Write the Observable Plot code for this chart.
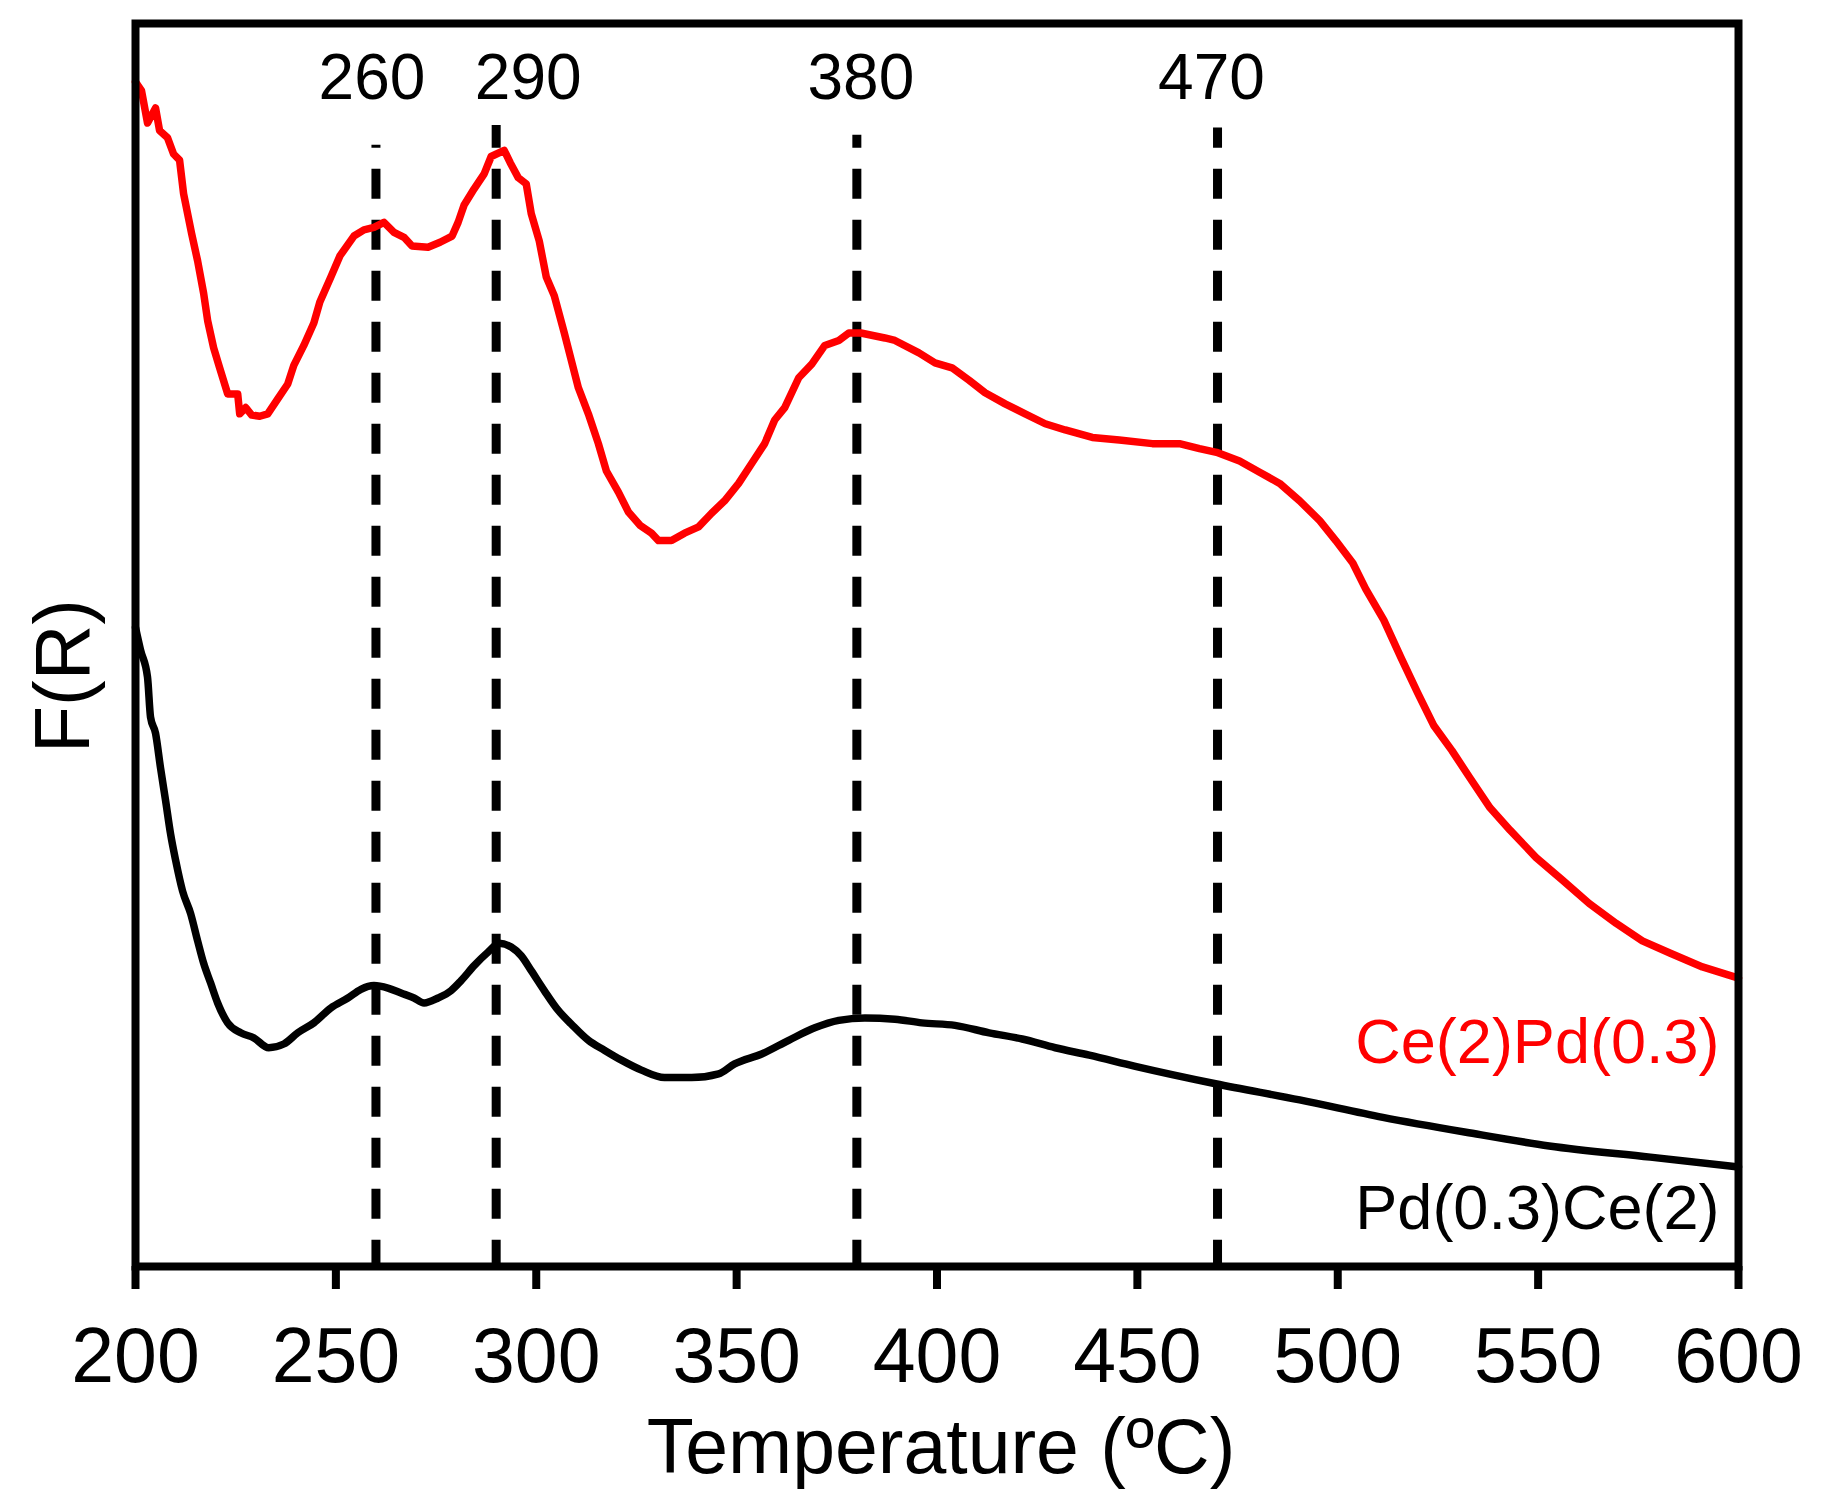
<!DOCTYPE html>
<html>
<head>
<meta charset="utf-8">
<script src="https://cdn.jsdelivr.net/npm/d3@7"></script>
<script src="https://cdn.jsdelivr.net/npm/@observablehq/plot@0.6"></script>
<style>
  html, body { margin: 0; padding: 0; background: #fff; }
</style>
</head>
<body>
<div id="chart"></div>
<script>
// Ce(2)Pd(0.3) — red curve (Temperature °C, F(R) arbitrary units 0–100)
const redT = [200, 201.5, 203, 205, 206, 208, 209.5, 211, 212, 214, 215.5, 217, 218, 219.5, 221, 223, 225.5, 226, 227.5, 229, 231, 233, 235.5, 238, 239.5, 242, 244.5, 246, 248.75, 251, 254.5, 257, 259.5, 262, 264.5, 267, 269, 273, 276, 279, 280.5, 282, 284.5, 287, 288.75, 292, 293.5, 295.5, 297.5, 298.75, 300.75, 302.5, 304.5, 307, 308.75, 310.5, 313, 315.5, 317.5, 320.5, 323, 326, 328.75, 330.5, 333.75, 337, 340.5, 343.75, 347, 350.5, 353.75, 357, 359.5, 362, 365.5, 368.75, 372, 375.5, 378, 381, 387, 389.5, 395.5, 399.5, 403.75, 408, 412, 417, 422, 427, 432, 438.75, 445.5, 453.75, 460.5, 465.5, 469.75, 475.5, 480.5, 485.5, 490.5, 495.5, 499.5, 503.75, 507, 511.5, 515.75, 520, 524, 528.5, 533, 538, 543, 549.5, 556, 562.75, 569.5, 576, 583, 591, 600];
const redF = [95.3, 94.6, 92.0, 93.2, 91.4, 90.8, 89.5, 89.0, 86.3, 83.1, 80.9, 78.3, 76.1, 73.9, 72.3, 70.2, 70.2, 68.6, 69.1, 68.5, 68.4, 68.6, 69.8, 71.0, 72.5, 74.1, 75.9, 77.6, 79.6, 81.3, 82.9, 83.4, 83.6, 84.0, 83.2, 82.8, 82.1, 82.0, 82.4, 82.9, 84.0, 85.4, 86.7, 87.9, 89.3, 89.8, 88.8, 87.6, 87.1, 84.7, 82.5, 79.6, 78.1, 75.1, 72.9, 70.7, 68.6, 66.2, 64.0, 62.3, 60.7, 59.6, 59.0, 58.4, 58.4, 59.0, 59.5, 60.6, 61.6, 63.0, 64.6, 66.2, 68.1, 69.1, 71.5, 72.6, 74.1, 74.5, 75.1, 75.1, 74.7, 74.5, 73.5, 72.7, 72.3, 71.3, 70.3, 69.4, 68.6, 67.8, 67.3, 66.7, 66.5, 66.2, 66.2, 65.8, 65.5, 64.8, 63.9, 63.0, 61.6, 60.0, 58.4, 56.6, 54.5, 52.0, 49.0, 46.1, 43.5, 41.5, 39.3, 36.9, 35.1, 32.9, 31.1, 29.2, 27.6, 26.2, 25.2, 24.1, 23.2];

// Pd(0.3)Ce(2) — black curve
const blackT = [200, 201.25, 203, 203.75, 205, 206.25, 207.5, 208.75, 210, 211.75, 213.75, 215.5, 217, 218.75, 220.5, 223, 226.25, 229.5, 233.25, 237, 240.5, 244.5, 248.75, 253, 256.25, 259.5, 263, 266.25, 269.5, 272, 275.5, 278.75, 281.25, 284.5, 288, 290.75, 293.75, 296.25, 298.75, 302, 305.5, 308.75, 313, 317, 321.25, 326.25, 332, 338.75, 345.5, 349.5, 356.25, 363, 369.5, 375.5, 382, 389.5, 396.25, 404.5, 413, 421.25, 429.5, 438, 449.5, 469.5, 490.5, 511.25, 532, 552.75, 578, 600];
const blackF = [51.4, 49.6, 47.4, 44.2, 42.9, 40.1, 37.5, 34.8, 32.7, 30.2, 28.4, 26.2, 24.4, 22.8, 21.2, 19.6, 18.8, 18.4, 17.6, 17.9, 18.8, 19.6, 20.8, 21.6, 22.3, 22.6, 22.4, 22.0, 21.6, 21.2, 21.6, 22.2, 23.0, 24.2, 25.3, 26.0, 25.7, 25.0, 23.8, 22.2, 20.6, 19.5, 18.2, 17.4, 16.6, 15.8, 15.2, 15.2, 15.5, 16.3, 17.1, 18.2, 19.2, 19.8, 20.0, 19.9, 19.6, 19.4, 18.8, 18.3, 17.6, 17.0, 16.1, 14.7, 13.4, 12.0, 10.8, 9.7, 8.8, 8.0];

// Peak markers (line position, top of the dashed line, label centre)
const peakTemps = [260, 290, 380, 470];
const peakTops = [90.2, 91.8, 91.0, 91.6];
const peakLabelX = [259, 298, 381, 468.5];

// Axis ticks and labels
const xTicks = [200, 250, 300, 350, 400, 450, 500, 550, 600];
const seriesNames = ["Ce(2)Pd(0.3)", "Pd(0.3)Ce(2)"];
const seriesColors = ["#ff0000", "#000000"];
const seriesLabelY = [16.4, 3.0];
const xTitle = "Temperature (ºC)";
const yTitle = "F(R)";

const red = redT.map((t, i) => ({t, f: redF[i]}));
const black = blackT.map((t, i) => ({t, f: blackF[i]}));
const peaks = peakTemps.map((t, i) => ({t, top: peakTops[i], lx: peakLabelX[i]}));
const labels = seriesNames.map((name, i) => ({name, color: seriesColors[i], y: seriesLabelY[i]}));

const font = "'Liberation Sans', Arial, Helvetica, sans-serif";

const chart = Plot.plot({
  width: 1822,
  height: 1511,
  marginLeft: 135,
  marginRight: 84,
  marginTop: 23,
  marginBottom: 245,
  style: {fontFamily: font, background: "#fff", overflow: "visible", color: "#000"},
  x: {domain: [200, 600]},
  y: {domain: [0, 100], axis: null},
  marks: [
    Plot.ruleX(peaks, {x: "t", y1: () => -0.3, y2: "top", stroke: "#000", strokeWidth: 9, strokeDasharray: "30,21"}),
    Plot.line(black, {x: "t", y: "f", stroke: seriesColors[1], strokeWidth: 7.5, strokeLinejoin: "round", curve: "monotone-x"}),
    Plot.line(red, {x: "t", y: "f", stroke: seriesColors[0], strokeWidth: 7.5, strokeLinejoin: "round"}),
    Plot.frame({stroke: "#000", strokeWidth: 8}),
    Plot.axisX({ticks: xTicks, tickSize: 23, tickPadding: 38, fontSize: 77, strokeWidth: 8, label: null, tickFormat: d => String(d)}),
    Plot.text(peaks, {x: "lx", y: 93.9, text: d => String(d.t), fontSize: 64, textAnchor: "middle", lineAnchor: "bottom", fill: "#000"}),
    Plot.text(labels, {x: () => 595.25, y: "y", text: "name", fill: "color", fontSize: 63, textAnchor: "end", lineAnchor: "bottom"}),
    Plot.text([xTitle], {x: () => 401, y: () => -16.6, text: d => d, fontSize: 77, textAnchor: "middle", lineAnchor: "bottom", fill: "#000"}),
    Plot.text([yTitle], {x: () => 188.5, y: () => 47.5, text: d => d, fontSize: 77, rotate: -90, textAnchor: "middle", lineAnchor: "bottom", fill: "#000"})
  ]
});
document.getElementById("chart").appendChild(chart);
</script>
</body>
</html>
